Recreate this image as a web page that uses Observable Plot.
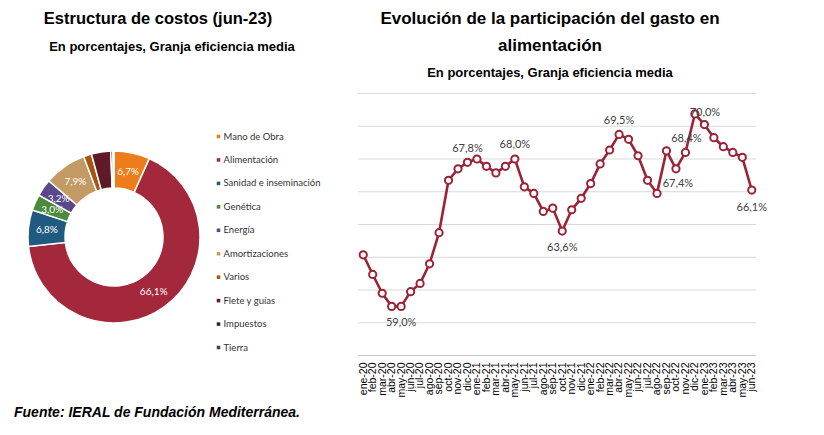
<!DOCTYPE html>
<html><head><meta charset="utf-8">
<script src="https://cdn.jsdelivr.net/npm/d3@7"></script>
<script src="https://cdn.jsdelivr.net/npm/@observablehq/plot@0.6"></script>
<style>
body{margin:0;background:#fff;}
#wrap{position:relative;width:824px;height:435px;overflow:hidden;font-family:"Liberation Sans",Arial,sans-serif;}
.t{position:absolute;font-weight:bold;color:#000;white-space:nowrap;transform:translateX(-50%);}
#left,#right{position:absolute;}
#left{left:0;top:125px;}
#right{left:340px;top:85px;}
.foot{position:absolute;left:14px;top:404px;font-size:14px;font-weight:bold;font-style:italic;color:#000;white-space:nowrap;}
</style></head><body>
<div id="wrap">
  <div class="t" style="left:158px;top:9px;font-size:16.5px">Estructura de costos (jun-23)</div>
  <div class="t" style="left:172px;top:39px;font-size:13px">En porcentajes, Granja eficiencia media</div>
  <div class="t" style="left:550px;top:9px;font-size:17px">Evolución de la participación del gasto en</div>
  <div class="t" style="left:550px;top:36px;font-size:17px">alimentación</div>
  <div class="t" style="left:550px;top:65px;font-size:13px">En porcentajes, Granja eficiencia media</div>
  <div id="left"></div>
  <div id="right"></div>
  <div class="foot">Fuente: IERAL de Fundación Mediterránea.</div>
</div>
<script>
// ---- Donut data ----
const categories = ["Mano de Obra","Alimentación","Sanidad e inseminación","Genética","Energía","Amortizaciones","Varios","Flete y guías","Impuestos","Tierra"];
const shares = [6.7, 66.1, 6.8, 3.0, 3.2, 7.9, 1.5, 3.6, 0.4, 0.2];
const shareLabels = ["6,7%","66,1%","6,8%","3,0%","3,2%","7,9%","","","",""];
const colors = ["#ed7d1b","#a3283b","#1f5a80","#4c8a3c","#5b4888","#c49a64","#a5560f","#5e1a26","#1b2a48","#2f4f3a"];

// ---- Line data ----
const months = ["ene-20","feb-20","mar-20","abr-20","may-20","jun-20","jul-20","ago-20","sep-20","oct-20","nov-20","dic-20",
"ene-21","feb-21","mar-21","abr-21","may-21","jun-21","jul-21","ago-21","sep-21","oct-21","nov-21","dic-21",
"ene-22","feb-22","mar-22","abr-22","may-22","jun-22","jul-22","ago-22","sep-22","oct-22","nov-22","dic-22",
"ene-23","feb-23","mar-23","abr-23","may-23","jun-23"];
const values = [62.15,60.95,59.8,59.0,59.0,59.9,60.4,61.6,63.5,66.7,67.4,67.8,
68.0,67.55,67.15,67.55,68.0,66.3,65.9,64.8,65.0,63.6,64.9,65.6,
66.5,67.7,68.55,69.5,69.2,68.2,66.7,65.9,68.5,67.4,68.4,70.75,
70.1,69.3,68.75,68.4,68.1,66.1];
const labelMonths = ["may-20","dic-20","may-21","oct-21","abr-22","oct-22","nov-22","dic-22","jun-23"];
const labelTexts = ["59,0%","67,8%","68,0%","63,6%","69,5%","67,4%","68,4%","70,0%","66,1%"];
const yTicks = [56,58,60,62,64,66,68,70,72];

// ---- Left: donut + legend ----
const pieData = categories.map((c,i)=>({category:c, value:shares[i], label:shareLabels[i]}));
function donut(index, scales) {
  const color = scales.color || d3.scaleOrdinal(categories, colors);
  const arcs = d3.pie().sort(null).value(d=>d.value)(pieData);
  const arc = d3.arc().innerRadius(49).outerRadius(86);
  const g = d3.create("svg:g").attr("transform","translate(114,112)");
  g.selectAll("path").data(arcs).join("path")
    .attr("d", arc).attr("fill", d=>color(d.data.category))
    .attr("stroke","#fff").attr("stroke-width",1.5);
  g.selectAll("text").data(arcs.filter(d=>d.data.label)).join("text")
    .attr("transform", d=>`translate(${arc.centroid(d)})`)
    .attr("text-anchor","middle").attr("dy","0.35em")
    .attr("fill","#fff").attr("font-size",10).attr("font-family","Lato, sans-serif")
    .text(d=>d.data.label);
  return g.node();
}
const left = Plot.plot({
  width: 340, height: 240, margin: 0,
  y: {type:"point", domain: categories, range:[11,222], padding:0, round:false, axis:null},
  color: {domain: categories, range: colors},
  style: {fontFamily:"Lato, sans-serif"},
  marks: [
    donut,
    Plot.dot(categories, {y: d=>d, fill: d=>d, symbol:"square", r:2, frameAnchor:"left", dx:218}),
    Plot.text(categories, {y: d=>d, text: d=>d, frameAnchor:"left", dx:223, textAnchor:"start", fontSize:9.5, fill:"#333"})
  ]
});
document.getElementById("left").append(left);

// ---- Right: line chart ----
const series = months.map((m,i)=>({month:m, value:values[i]}));
const labelData = labelMonths.map((m,i)=>({month:m, value:values[months.indexOf(m)], text:labelTexts[i]}));
const place = {"may-20":[0,16],"dic-20":[0,-14],"may-21":[0,-15],"oct-21":[0,16],"abr-22":[0,-14],
  "oct-22":[2,15],"nov-22":[1,-14],"dic-22":[10,-2],"jun-23":[0,17]};
const red = "#9b2335";
const right = Plot.plot({
  width: 440, height: 325,
  marginLeft: 18, marginRight: 24, marginTop: 8, marginBottom: 55,
  x: {type:"point", domain: months, padding:0.5, round:false, tickRotate:-90, tickSize:0, tickPadding:7, label:null},
  y: {domain:[56,72], axis:null},
  style: {fontFamily:"Liberation Sans, Arial, sans-serif", fontSize:"10.5px", color:"#000"},
  marks: [
    Plot.ruleY(yTicks.slice(1), {stroke:"#d9d9d9", strokeWidth:1}),
    Plot.ruleY([yTicks[0]], {stroke:"#c8c8c8", strokeWidth:1}),
    Plot.line(series, {x:"month", y:"value", stroke:red, strokeWidth:2.6}),
    Plot.dot(series, {x:"month", y:"value", r:3.6, fill:"#fff", stroke:red, strokeWidth:2}),
    Plot.text(labelData, {x:"month", y:"value", text:"text", fontSize:11, fill:"#404040", fontFamily:"Lato, sans-serif"})
  ]
});
// label placement (style config)
d3.select(right).selectAll("text").filter(function(){return labelTexts.includes(this.textContent);})
  .each(function(){
    const i = labelTexts.indexOf(this.textContent);
    const p = place[labelMonths[i]];
    const t = this.getAttribute("transform") || "";
    this.setAttribute("transform", t + ` translate(${p[0]},${p[1]})`);
  });
document.getElementById("right").append(right);
</script>
</body></html>
